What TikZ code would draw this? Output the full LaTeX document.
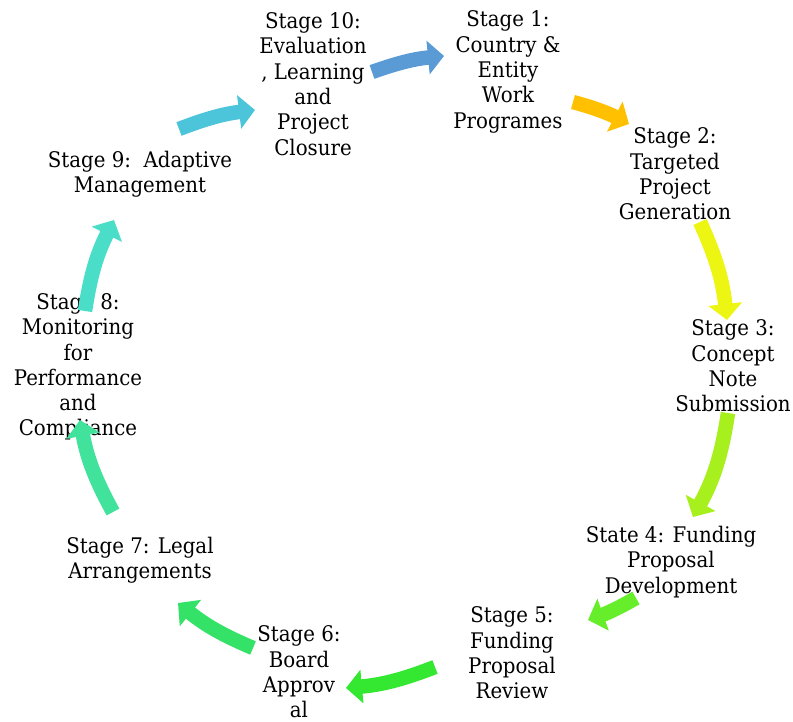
\documentclass[tikz,border=0pt]{standalone}
\usepackage{fontspec}
\setmainfont{DejaVu Serif}[FakeStretch=0.92]
\usetikzlibrary{arrows.meta}

\definecolor{flowA}{RGB}{91,155,213}
\definecolor{flowB}{RGB}{255,192,0}
\definecolor{flowC}{RGB}{236,246,18}
\definecolor{flowD}{RGB}{167,240,29}
\definecolor{flowE}{RGB}{102,238,42}
\definecolor{flowF}{RGB}{52,232,50}
\definecolor{flowG}{RGB}{52,226,104}
\definecolor{flowH}{RGB}{64,226,156}
\definecolor{flowI}{RGB}{74,222,200}
\definecolor{flowJ}{RGB}{76,196,218}

\begin{document}
\begin{tikzpicture}[x=1pt,y=-1pt]
\tikzstyle{stage} = [align=center, inner sep=1pt, font=\fontsize{21.5}{25.3}\selectfont]
\tikzstyle{arrow} = [line width=14.5pt, -{Triangle[width=33pt,length=16pt]}]

\useasboundingbox (0,0) rectangle (793,722);

\node (Stage1) [stage] at (508,72) {Stage 1:\\Country \&\\Entity\\Work\\Programes};
\node (Stage2) [stage] at (675,174) {Stage 2:\\Targeted\\Project\\Generation};
\node (Stage3) [stage] at (733,366) {Stage 3:\\Concept\\Note\\Submission};
\node (Stage4) [stage] at (671,562) {State 4: Funding\\Proposal\\Development};
\node (Stage5) [stage] at (512,653) {Stage 5:\\Funding\\Proposal\\Review};
\node (Stage6) [stage] at (299,672) {Stage 6:\\Board\\Approv\\al};
\node (Stage7) [stage] at (140,560) {Stage 7: Legal\\Arrangements};
\node (Stage8) [stage] at (78,367) {Stage 8:\\Monitoring\\for\\Performance\\and\\Compliance};
\node (Stage9) [stage] at (140,174) {Stage 9:\ \ Adaptive\\Management};
\node (Stage10) [stage] at (313,84) {Stage 10:\\Evaluation\\, Learning\\and\\Project\\Closure};

\draw [arrow, draw=flowA] ([shift={(59,-12)}]Stage10.center) to[bend left=7] ([shift={(-64,-16)}]Stage1.center);
\draw [arrow, draw=flowB] ([shift={(65,30)}]Stage1.center) to[bend left=6] ([shift={(-46,-50)}]Stage2.center);
\draw [arrow, draw=flowC] ([shift={(25,48)}]Stage2.center) to[bend left=9] ([shift={(-6,-46)}]Stage3.center);
\draw [arrow, draw=flowD] ([shift={(-5,47)}]Stage3.center) to[bend left=10] ([shift={(22,-45)}]Stage4.center);
\draw [arrow, draw=flowE] ([shift={(-35,36)}]Stage4.center) to[bend left=5] ([shift={(76,-33)}]Stage5.center);
\draw [arrow, draw=flowF] ([shift={(-77,14)}]Stage5.center) to[bend left=8] ([shift={(47,16)}]Stage6.center);
\draw [arrow, draw=flowG] ([shift={(-46,-24)}]Stage6.center) to[bend left=8] ([shift={(38,43)}]Stage7.center);
\draw [arrow, draw=flowH] ([shift={(-27,-48)}]Stage7.center) to[bend left=9] ([shift={(2,53)}]Stage8.center);
\draw [arrow, draw=flowI] ([shift={(7,-56)}]Stage8.center) to[bend left=9] ([shift={(-26,46)}]Stage9.center);
\draw [arrow, draw=flowJ] ([shift={(39,-45)}]Stage9.center) to[bend left=7] ([shift={(-58,26)}]Stage10.center);

\end{tikzpicture}
\end{document}
